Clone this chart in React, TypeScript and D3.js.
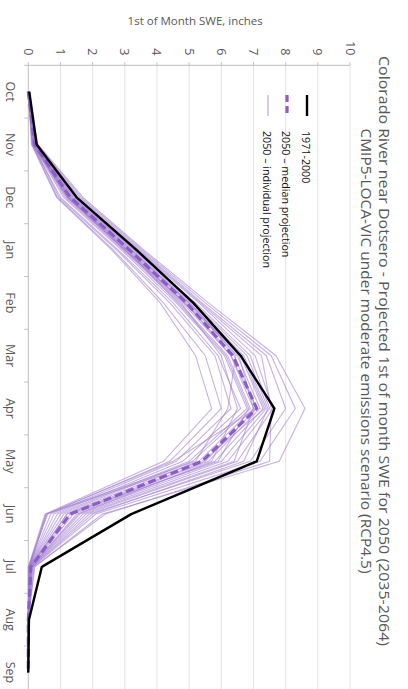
import React from "react";
import * as d3 from "d3";

const MONTHS = ["Oct", "Nov", "Dec", "Jan", "Feb", "Mar", "Apr", "May", "Jun", "Jul", "Aug", "Sep"];
const SWE_TICKS = [0, 1, 2, 3, 4, 5, 6, 7, 8, 9, 10];

const HISTORICAL_1971_2000 = [0.03, 0.26, 1.5, 3.37, 5.13, 6.6, 7.65, 7.1, 3.2, 0.42, 0.02, 0];
const MEDIAN_2050 = [0, 0.2, 1.3, 3.15, 4.92, 6.36, 7.1, 5.4, 1.3, 0.08, 0, 0];

const INDIVIDUAL_2050 = [
  [0, 0.3, 1.7, 3.6, 5.6, 7.7, 8.6, 7.8, 2.3, 0.2, 0, 0],
  [0, 0.28, 1.65, 3.55, 5.5, 7.55, 8.3, 7.2, 2.1, 0.15, 0, 0],
  [0, 0.25, 1.6, 3.5, 5.4, 7.4, 8.0, 6.9, 1.9, 0.12, 0, 0],
  [0, 0.22, 1.5, 3.4, 5.3, 7.05, 7.6, 6.5, 1.8, 0.1, 0, 0],
  [0, 0.2, 1.45, 3.3, 5.2, 6.9, 7.5, 6.2, 1.6, 0.1, 0, 0],
  [0, 0.24, 1.4, 3.25, 5.1, 6.7, 7.4, 6.0, 1.5, 0.08, 0, 0],
  [0, 0.18, 1.35, 3.2, 5.0, 6.6, 7.3, 5.8, 1.4, 0.05, 0, 0],
  [0, 0.2, 1.3, 3.1, 4.95, 6.5, 7.2, 5.6, 1.3, 0.05, 0, 0],
  [0, 0.15, 1.25, 3.05, 4.85, 6.4, 7.1, 5.5, 1.2, 0.05, 0, 0],
  [0, 0.18, 1.2, 3.0, 4.8, 6.3, 7.0, 5.3, 1.1, 0.04, 0, 0],
  [0, 0.16, 1.15, 2.95, 4.7, 6.2, 6.9, 5.1, 1.0, 0.03, 0, 0],
  [0, 0.14, 1.1, 2.9, 4.6, 6.1, 6.8, 5.0, 0.9, 0.03, 0, 0],
  [0, 0.12, 1.0, 2.8, 4.5, 5.9, 6.6, 4.8, 0.8, 0.02, 0, 0],
  [0, 0.15, 0.95, 2.75, 4.4, 5.8, 6.3, 4.6, 0.7, 0.02, 0, 0],
  [0, 0.12, 0.9, 2.65, 4.2, 5.5, 6.0, 4.4, 0.6, 0, 0, 0],
  [0, 0.1, 0.88, 2.6, 4.1, 5.2, 5.7, 4.2, 0.52, 0, 0, 0],
  [0, 0.22, 1.55, 3.45, 5.35, 7.25, 7.55, 7.5, 2.4, 0.18, 0, 0],
  [0, 0.2, 1.4, 3.3, 5.15, 6.8, 7.45, 6.7, 2.0, 0.12, 0, 0],
  [0, 0.18, 1.3, 3.15, 5.0, 6.55, 7.0, 6.4, 1.7, 0.1, 0, 0],
  [0, 0.16, 1.25, 3.0, 4.75, 6.0, 6.5, 5.7, 1.55, 0.08, 0, 0],
  [0, 0.2, 1.35, 3.2, 5.05, 6.45, 6.2, 5.2, 0.55, 0.03, 0, 0],
  [0, 0.14, 1.2, 3.0, 4.9, 6.3, 7.1, 4.5, 0.55, 0.02, 0, 0],
  [0, 0.18, 1.28, 3.1, 4.85, 6.65, 7.35, 5.4, 0.58, 0.04, 0, 0],
  [0, 0.16, 1.22, 3.05, 4.65, 6.15, 6.85, 5.9, 1.2, 0.06, 0, 0],
];

const TITLE_LINES = [
  "Colorado River near Dotsero - Projected 1st of month SWE for 2050 (2035-2064)",
  "CMIP5-LOCA-VIC under moderate emissions scenario (RCP4.5)",
];
const AXIS_TITLE = "1st of Month SWE, inches";
const LEGEND_LABELS = ["1971-2000", "2050 \u2013 median projection", "2050 \u2013 individual projection"];

const W = 408;
const H = 689;
const FONT = "'Open Sans', 'Noto Sans', sans-serif";

export default function App() {
  // Chart laid out in an unrotated frame (u horizontal, v vertical), then rotated 90° clockwise.
  const u0 = 65.3;
  const u1 = 65.3 + 12 * 52.8;
  const v0 = 379.7; // value 0
  const v1 = 58; // value 10

  const xBand = d3.scaleBand<string>().domain(MONTHS).range([u0, u1]);
  const xPoint = d3.scalePoint<string>().domain(MONTHS).range([u0, u1]).padding(0.5);
  const y = d3.scaleLinear().domain([0, 10]).range([v0, v1]);

  const line = d3
    .line<number>()
    .x((_, i) => xPoint(MONTHS[i]) as number)
    .y((d) => y(d));

  const boundaries = [...MONTHS.map((m) => xBand(m) as number), u1];

  const purple = "#8e5cc7";
  const lightPurple = "#a27fd0";
  const grid = "#e4e4e4";
  const axis = "#bfbfbf";
  const textGray = "#595959";

  const legendRows = [101, 121, 140];
  const titleLengths = [590, 445];

  return (
    <svg
      width={W}
      height={H}
      style={{ position: "absolute", left: 0, top: 0, background: "#fff" }}
      fontFamily={FONT}
    >
      <rect x={0} y={0} width={W} height={H} fill="#fff" />
      <g transform={`translate(${W},0) rotate(90)`}>
        {/* gridlines */}
        {SWE_TICKS.map((t) => (
          <g key={t}>
            <line x1={u0} x2={u1} y1={y(t)} y2={y(t)} stroke={t === 0 ? axis : grid} strokeWidth={1} />
            <line x1={u0 - 3} x2={u0} y1={y(t)} y2={y(t)} stroke={axis} strokeWidth={1} />
            <text
              x={u0 - 10}
              y={y(t)}
              textAnchor="end"
              dominantBaseline="central"
              fontSize={12.5}
              fill={textGray}
            >
              {t}
            </text>
          </g>
        ))}
        {/* value axis line (left edge) */}
        <line x1={u0} x2={u0} y1={y(0)} y2={y(10)} stroke={axis} strokeWidth={1} />
        {/* category ticks */}
        {boundaries.map((b, i) => (
          <line key={i} x1={b} x2={b} y1={y(0)} y2={y(0) + 4} stroke={axis} strokeWidth={1} />
        ))}
        {/* month labels */}
        {MONTHS.map((m) => (
          <text key={m} x={xPoint(m) as number} y={y(0) + 22} textAnchor="middle" fontSize={12.5} fill={textGray}>
            {m}
          </text>
        ))}
        {/* axis title */}
        <text
          transform={`translate(20, ${(y(0) + y(10)) / 2 - 6}) rotate(-90)`}
          textAnchor="middle"
          dominantBaseline="central"
          fontSize={11.5}
          fill={textGray}
        >
          {AXIS_TITLE}
        </text>
        {/* chart title */}
        {TITLE_LINES.map((t, i) => (
          <text
            key={i}
            x={351}
            y={23 + i * 18}
            textAnchor="middle"
            dominantBaseline="central"
            fontSize={15}
            textLength={titleLengths[i]}
            lengthAdjust="spacingAndGlyphs"
            fill={textGray}
          >
            {t}
          </text>
        ))}
        {/* individual projections */}
        {INDIVIDUAL_2050.map((s, i) => (
          <path key={i} d={line(s) as string} fill="none" stroke={lightPurple} strokeOpacity={0.6} strokeWidth={1.1} />
        ))}
        {/* median */}
        <path d={line(MEDIAN_2050) as string} fill="none" stroke={purple} strokeWidth={3.2} strokeDasharray="8 4" />
        {/* historical */}
        <path d={line(HISTORICAL_1971_2000) as string} fill="none" stroke="#000" strokeWidth={2.4} strokeLinejoin="round" />
        {/* legend */}
        <g>
          <line x1={95} x2={116} y1={legendRows[0]} y2={legendRows[0]} stroke="#000" strokeWidth={2.4} />
          <line x1={95} x2={116} y1={legendRows[1]} y2={legendRows[1]} stroke={purple} strokeWidth={3.2} strokeDasharray="7 4" />
          <line x1={95} x2={116} y1={legendRows[2]} y2={legendRows[2]} stroke={lightPurple} strokeOpacity={0.7} strokeWidth={1.2} />
          {LEGEND_LABELS.map((l, i) => (
            <text key={l} x={131} y={legendRows[i] + 1} dominantBaseline="central" fontSize={10.7} fill="#111">
              {l}
            </text>
          ))}
        </g>
      </g>
    </svg>
  );
}
